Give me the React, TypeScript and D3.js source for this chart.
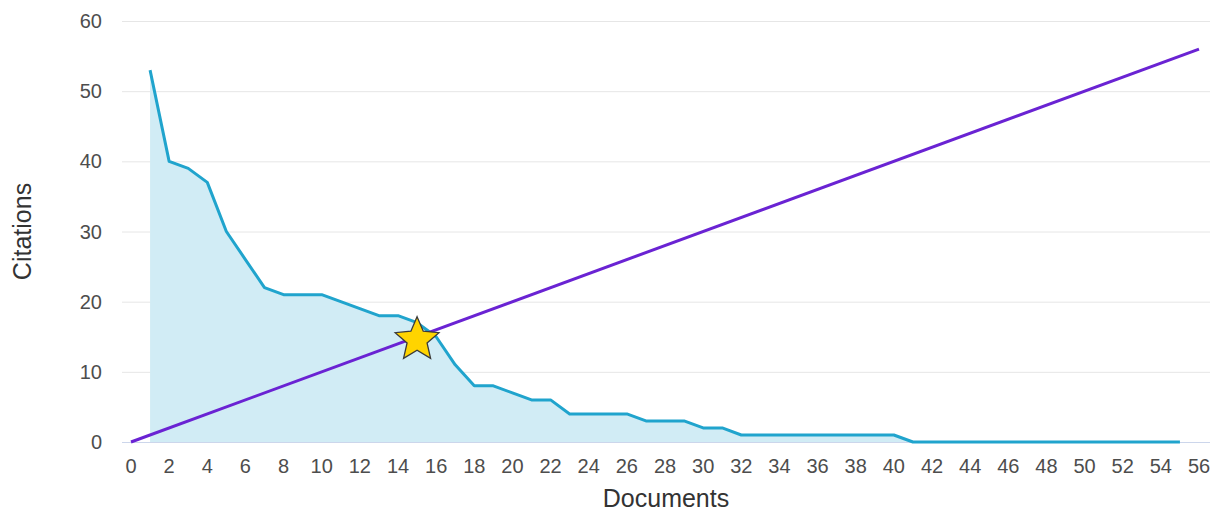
import React from "react";
import * as d3 from "d3";

const documents = [1,2,3,4,5,6,7,8,9,10,11,12,13,14,15,16,17,18,19,20,21,22,23,24,25,26,27,28,29,30,31,32,33,34,35,36,37,38,39,40,41,42,43,44,45,46,47,48,49,50,51,52,53,54,55];
const citations = [53,40,39,37,30,26,22,21,21,21,20,19,18,18,17,15,11,8,8,7,6,6,4,4,4,4,3,3,3,2,2,1,1,1,1,1,1,1,1,1,0,0,0,0,0,0,0,0,0,0,0,0,0,0,0];
const diagonalX = [0, 56];
const hIndex = 15;
const xTicks = d3.range(0, 57, 2);
const yTicks = [0, 10, 20, 30, 40, 50, 60];

const W = 1213, H = 512;
const plotLeft = 122, plotRight = 1210;

export default function App() {
  const x = d3.scaleLinear().domain([0, 56]).range([131, 1199]);
  const y = d3.scaleLinear().domain([0, 60]).range([442, 21]);
  const pts = documents.map((d, i) => [d, citations[i]] as [number, number]);
  const area = d3.area<[number, number]>().x(d => x(d[0])).y0(y(0)).y1(d => y(d[1]))(pts) || "";
  const line = d3.line<[number, number]>().x(d => x(d[0])).y(d => y(d[1]))(pts) || "";
  const diag = d3.line<number>().x(d => x(d)).y(d => y(d))(diagonalX) || "";
  const starPts = d3.range(10).map(i => [(i * Math.PI) / 5, i % 2 === 0 ? 23 : 10.5] as [number, number]);
  const star = (d3.lineRadial<[number, number]>().angle(d => d[0]).radius(d => d[1])(starPts) || "") + "Z";
  const font = "'Liberation Sans', Arial, sans-serif";
  return (
    <svg width={W} height={H} style={{ position: "absolute", left: 0, top: 0 }} fontFamily={font}>
      <rect width={W} height={H} fill="#ffffff" />
      {yTicks.filter(t => t !== 0).map(t => (
        <line key={t} x1={plotLeft} x2={plotRight} y1={y(t) + 0.5} y2={y(t) + 0.5} stroke="#e6e6e6" strokeWidth={1} />
      ))}
      <path d={area} fill="#d1ecf5" />
      <line x1={plotLeft} x2={plotRight} y1={y(0) + 0.5} y2={y(0) + 0.5} stroke="#ccd6eb" strokeWidth={1} />
      <path d={line} fill="none" stroke="#20a4cd" strokeWidth={3} strokeLinejoin="round" />
      <path d={diag} fill="none" stroke="#6a23d3" strokeWidth={3} />
      <path d={star} transform={`translate(${x(hIndex)},${y(hIndex) + 3})`} fill="#ffd400" stroke="#3a3a3a" strokeWidth={1.3} strokeLinejoin="miter" />
      {yTicks.map(t => (
        <text key={t} x={102} y={y(t) + 7} textAnchor="end" fontSize={20} fill="#4d4d4d">{t}</text>
      ))}
      {xTicks.map(t => (
        <text key={t} x={x(t)} y={473} textAnchor="middle" fontSize={20} fill="#4d4d4d">{t}</text>
      ))}
      <text x={(plotLeft + plotRight) / 2} y={507} textAnchor="middle" fontSize={25} fill="#333333">Documents</text>
      <text transform={`translate(31,${(21 + 442) / 2}) rotate(-90)`} textAnchor="middle" fontSize={25} fill="#333333">Citations</text>
    </svg>
  );
}
